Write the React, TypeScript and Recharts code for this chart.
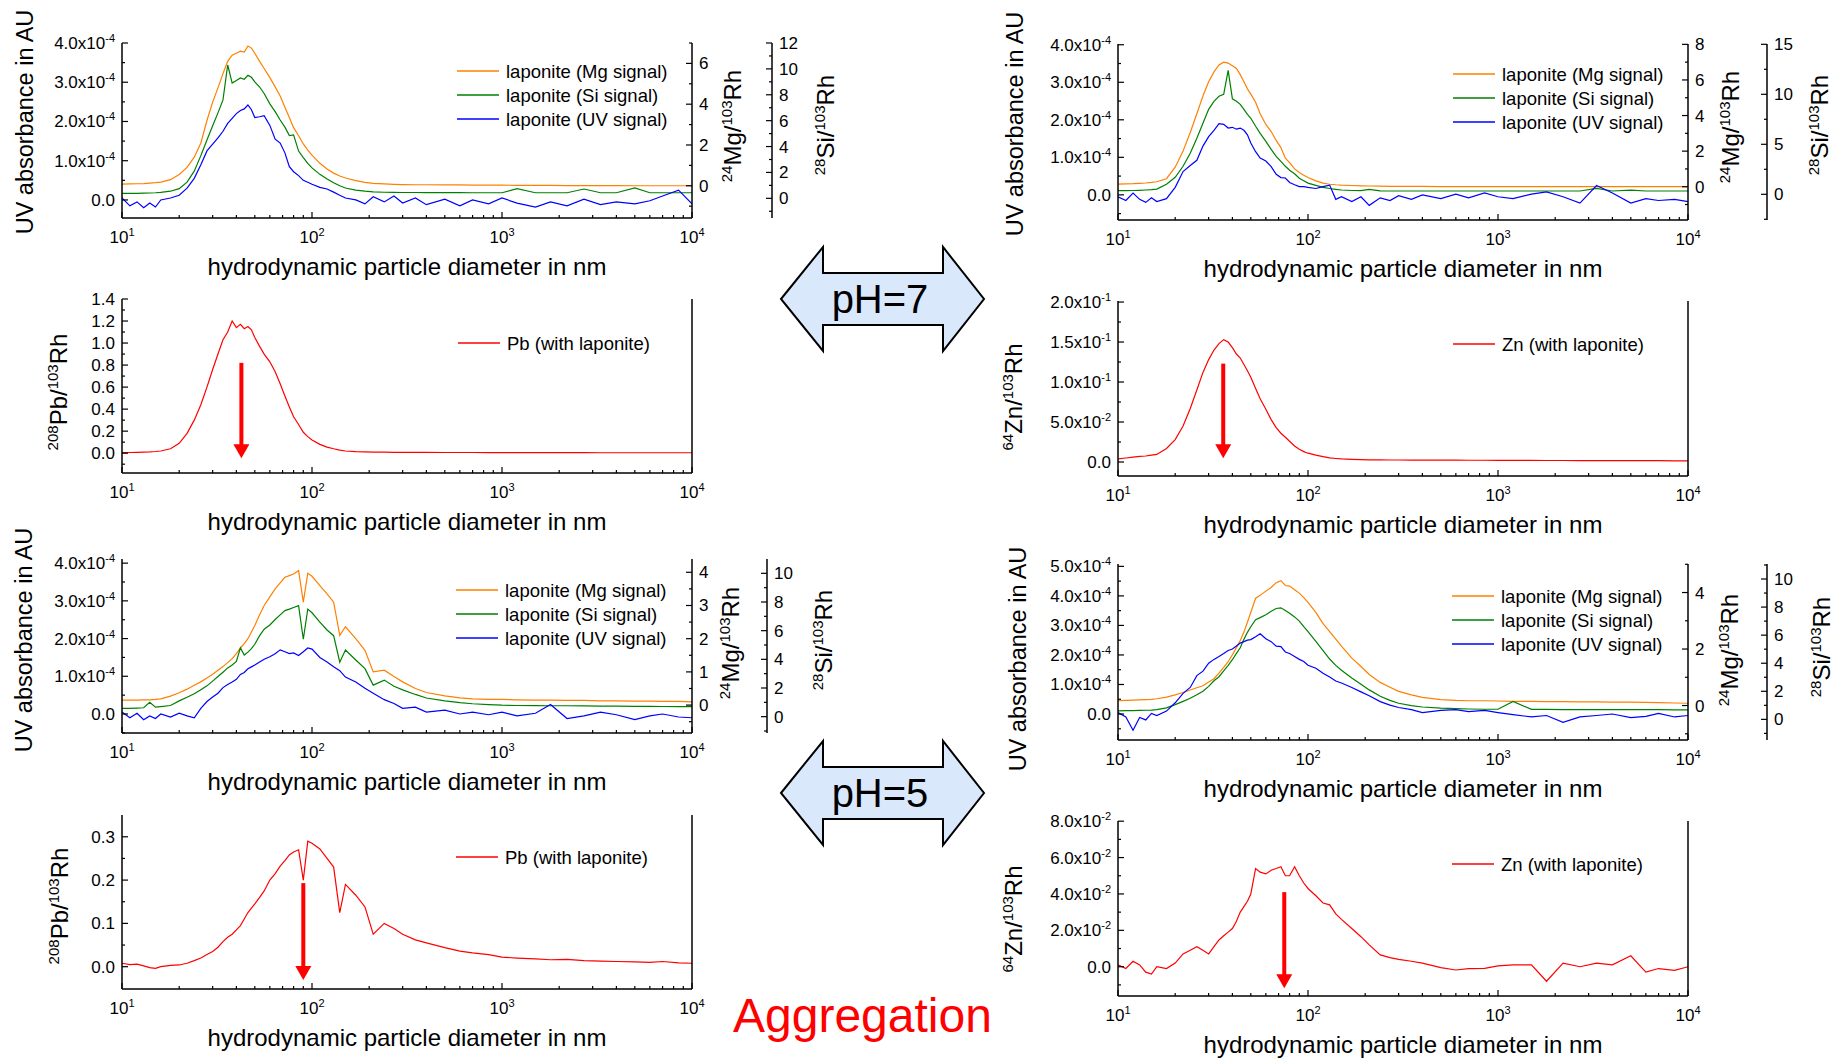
import React from 'react';
import { LineChart, Line, XAxis, YAxis, Legend, ReferenceLine } from 'recharts';

const FONT = 'Arial, "Liberation Sans", Helvetica, sans-serif';
const ORANGE = '#ff8000';
const GREEN = '#008000';
const BLUE = '#0000ff';
const RED = '#ff0000';

// hydrodynamic particle diameter (nm) where the curves were read
const diameters = [
  10, 11, 12, 13, 14, 15, 16,
  18, 20, 22, 24, 26, 28, 30, 32, 34, 36, 38, 40, 42, 44, 46, 48, 50,
  53, 56, 60, 64, 68, 72, 76, 80, 85, 90, 95, 100,
  110, 120, 130, 140, 150, 170, 190, 210, 240, 270, 300,
  350, 400, 500, 600, 700, 850, 1000,
  1200, 1500, 1800, 2200, 2700, 3300, 4000, 5000, 6000, 7000, 8500, 10000,
];

// pH 7, Pb run (UV in 1e-4 AU)
const pb7Mg = [
  .08, .09, .1, .11, .13, .15, .18,
  .3, .55, .9, 1.4, 2.1, 3.2, 4.1, 4.8, 5.5, 6.1, 6.4, 6.5, 6.6, 6.55, 6.85, 6.75, 6.5,
  6.1, 5.75, 5.3, 4.85, 4.4, 3.85, 3.35, 2.85, 2.45, 2.05, 1.75, 1.5,
  1.1, .82, .62, .48, .38, .25, .17, .12, .09, .07, .06,
  .05, .05, .04, .04, .03, .03, .03,
  .02, .02, .02, .01, .01, .01, .01, 0, 0, 0, 0, 0,
];
const pb7Si = [
  .38, .38, .39, .4, .41, .43, .46,
  .55, .75, 1.25, 2.1, 3.3, 4.5, 5.6, 6.6, 7.6, 10.3, 8.9, 9.1, 9.3, 9.2, 9.5, 9.35, 9.0,
  8.6, 8.1, 7.3, 6.7, 6.05, 5.5, 4.85, 4.9, 3.65, 3.15, 2.7, 2.35,
  1.85, 1.5, 1.2, .97, .8, .63, .55, .5, .47, .46, .45,
  .45, .44, .44, .44, .43, .43, .43,
  .75, .43, .43, .43, .72, .43, .43, .8, .43, .43, .43, .43,
];
const pb7Uv = [
  .05, -.15, -.05, -.2, -.08, -.18, 0,
  .05, .12, .3, .55, .9, 1.25, 1.42, 1.58, 1.75, 1.95, 2.08, 2.2, 2.28, 2.32, 2.42, 2.3, 2.1,
  2.12, 2.15, 1.9, 1.55, 1.45, 1.2, .85, .72, .62, .5, .45, .4,
  .32, .28, .2, .12, .05, 0, -.1, .08, -.05, .1, -.08,
  .05, -.12, .02, -.15, 0, -.1, .05,
  -.08, -.18, -.05, -.15, .02, -.12, -.05, -.1, -.02, .1, .25, -.1,
];
const pb7Pb = [
  .005, .006, .008, .01, .012, .015, .02,
  .04, .09, .18, .3, .44, .6, .76, .9, 1.03, 1.1, 1.2, 1.14, 1.17, 1.13, 1.15, 1.12, 1.05,
  .97, .9, .83, .74, .63, .52, .42, .33, .26, .19, .15, .12,
  .08, .055, .04, .028, .02, .014, .012, .01, .009, .008, .008,
  .007, .007, .006, .006, .006, .005, .005,
  .005, .005, .005, .005, .005, .004, .004, .004, .004, .004, .004, .004,
];

// pH 7, Zn run
const zn7Mg = [
  .15, .16, .17, .19, .21, .24, .28,
  .45, 1.1, 2.0, 3.05, 4.1, 5.1, 5.9, 6.45, 6.84, 7.0, 6.95, 6.8, 6.65, 6.3, 5.9, 5.5, 5.2,
  4.75, 4.1, 3.5, 3.1, 2.6, 2.2, 1.6, 1.35, 1.0, .8, .65, .52,
  .33, .2, .14, .11, .09, .07, .05, .04, .03, .02, .02,
  .02, .02, .01, .01, .01, .01, .01,
  .01, .01, .01, 0, 0, 0, 0, 0, 0, 0, 0, 0,
];
const zn7Si = [
  .36, .37, .38, .4, .43, .47, .52,
  1.0, 1.7, 2.8, 4.1, 5.6, 7.1, 8.5, 9.3, 9.8, 10.0, 12.4, 9.55, 9.3, 9.0, 8.5, 8.0, 7.6,
  6.8, 6.1, 5.3, 4.5, 3.8, 3.3, 2.8, 2.4, 2.05, 1.6, 1.35, 1.12,
  .9, .7, .58, .5, .43, .38, .36, .5, .34, .33, .33,
  .33, .33, .33, .33, .33, .33, .33,
  .33, .33, .33, .33, .33, .6, .33, .42, .33, .33, .33, .33,
];
const zn7Uv = [
  -.05, -.15, .05, -.12, -.2, -.08, -.18,
  -.1, .2, .62, .78, .92, 1.3, 1.55, 1.72, 1.9, 1.88, 1.78, 1.8, 1.75, 1.78, 1.72, 1.6, 1.38,
  1.15, .98, .9, .75, .55, .46, .45, .33, .27, .22, .22, .2,
  .17, .22, .26, -.12, -.05, -.18, -.05, -.28, -.08, -.15, -.02,
  -.12, 0, -.1, .02, -.08, .05, -.05,
  -.1, .02, .08, -.05, -.22, .25, .05, -.22, -.1, -.15, -.12, -.18,
];
const zn7Zn = [
  .004, .005, .006, .007, .0075, .0085, .0095,
  .017, .028, .045, .067, .09, .112, .128, .14, .148, .153, .15, .143, .135, .13, .122, .114, .106,
  .092, .079, .066, .053, .043, .036, .031, .026, .02, .016, .013, .011,
  .0085, .0068, .0052, .0044, .0038, .0032, .0029, .0027, .0026, .0025, .0025,
  .0024, .0024, .0023, .0023, .0022, .0022, .0021,
  .002, .002, .0019, .0019, .0018, .0018, .0017, .0017, .0016, .0016, .0015, .0015,
];

// pH 5, Pb run
const pb5Mg = [
  .15, .15, .15, .16, .16, .17, .19,
  .27, .37, .48, .6, .7, .82, .93, 1.05, 1.16, 1.28, 1.4, 1.55, 1.72, 1.85, 2.0, 2.2, 2.4,
  2.72, 3.0, 3.26, 3.5, 3.68, 3.85, 3.9, 3.95, 4.05, 3.1, 3.97, 3.88,
  3.6, 3.35, 3.1, 2.1, 2.36, 2.0, 1.65, 1.0, 1.05, .86, .7,
  .5, .38, .28, .22, .19, .17, .17,
  .16, .15, .15, .14, .14, .13, .13, .12, .12, .11, .11, .1,
];
const pb5Si = [
  .58, .58, .6, .62, 1.0, .66, .7,
  .78, 1.1, 1.35, 1.6, 1.88, 2.15, 2.48, 2.8, 3.1, 3.4, 3.6, 3.85, 4.8, 4.3, 4.5, 4.75, 5.05,
  5.65, 6.1, 6.4, 6.78, 7.1, 7.4, 7.5, 7.62, 7.75, 5.4, 7.5, 7.25,
  6.6, 6.05, 5.65, 3.8, 4.65, 3.95, 3.35, 2.2, 2.55, 2.12, 1.87,
  1.55, 1.3, 1.1, .98, .9, .84, .8,
  .78, .77, .76, .76, .75, .74, .73, .72, .72, .71, .7, .7,
];
const pb5Uv = [
  .05, -.1, .02, -.15, -.05, -.12, 0,
  -.08, .02, -.05, -.1, .15, .33, .45, .55, .7, .78, .85, .92, 1.05, 1.1, 1.2, 1.25, 1.3,
  1.38, 1.45, 1.52, 1.6, 1.7, 1.65, 1.6, 1.62, 1.55, 1.65, 1.75, 1.72,
  1.5, 1.38, 1.25, 1.15, .98, .85, .68, .55, .38, .28, .15,
  .18, .05, .1, 0, .05, -.02, .05,
  -.05, .02, .25, -.12, -.05, .05, -.02, -.15, -.05, 0, -.08, -.1,
];
const pb5Pb = [
  .008, .005, .006, .002, -.002, -.004, 0,
  .003, .004, .008, .014, .02, .028, .035, .045, .058, .068, .075, .085, .095, .11, .125, .135, .145,
  .16, .175, .2, .215, .232, .245, .258, .265, .27, .2, .29, .285,
  .272, .25, .23, .125, .19, .165, .138, .075, .1, .088, .075,
  .062, .055, .044, .036, .032, .028, .022,
  .02, .018, .016, .017, .014, .013, .012, .011, .01, .012, .009, .008,
];

// pH 5, Zn run
const zn5Mg = [
  .17, .18, .19, .2, .21, .22, .24,
  .3, .38, .46, .55, .63, .7, .83, .95, 1.15, 1.35, 1.55, 1.8, 2.05, 2.3, 2.6, 2.95, 3.3,
  3.8, 3.9, 4.05, 4.18, 4.35, 4.42, 4.25, 4.23, 4.1, 3.98, 3.82, 3.65,
  3.3, 2.9, 2.62, 2.35, 2.1, 1.68, 1.38, 1.1, .82, .65, .5,
  .38, .29, .21, .18, .17, .17, .16,
  .15, .15, .14, .14, .13, .13, .12, .12, .11, .1, .09, .08,
];
const zn5Si = [
  .61, .62, .63, .64, .65, .66, .7,
  .82, 1.05, 1.28, 1.5, 1.75, 2.0, 2.35, 2.75, 3.04, 3.45, 3.85, 4.25, 4.7, 5.1, 5.7, 6.2, 6.6,
  7.1, 7.25, 7.45, 7.7, 7.9, 7.95, 7.75, 7.56, 7.3, 7.0, 6.6, 6.25,
  5.55, 4.9, 4.3, 3.85, 3.5, 2.95, 2.5, 2.1, 1.65, 1.35, 1.15,
  .98, .88, .8, .76, .74, .72, .72,
  1.28, .71, .71, .7, .7, .7, .7, .7, .69, .69, .68, .68,
];
const zn5Uv = [
  .05, -.1, -.55, -.12, -.2, .02, -.05,
  .1, .38, .7, .9, 1.3, 1.45, 1.72, 1.85, 1.95, 2.05, 2.15, 2.2, 2.3, 2.4, 2.45, 2.5, 2.52,
  2.62, 2.72, 2.55, 2.45, 2.3, 2.28, 2.1, 2.05, 1.95, 1.85, 1.78, 1.65,
  1.55, 1.38, 1.25, 1.12, 1.05, .9, .75, .62, .42, .3, .22,
  .15, .05, .12, .15, .08, .12, .05,
  -.02, -.1, -.05, -.28, -.1, -.05, 0, -.12, -.08, .02, -.1, -.05,
];
const zn5Zn = [
  .001, -.001, .003, .001, -.003, -.004, 0,
  -.001, .002, .007, .009, .011, .009, .007, .011, .0147, .017, .019, .021, .025, .03, .033, .036, .04,
  .054, .052, .051, .053, .054, .055, .05, .05, .055, .05, .046, .043,
  .039, .035, .034, .029, .026, .021, .0165, .012, .0065, .005, .004,
  .003, .002, -.0005, -.0018, -.001, -.0009, .0005,
  .001, .001, -.008, .002, 0, .002, .001, .006, -.003, -.001, -.002, 0,
];

const xMajor = [10, 100, 1000, 10000];
const xMinor = [20, 30, 40, 50, 60, 70, 80, 90, 200, 300, 400, 500, 600, 700, 800, 900,
  2000, 3000, 4000, 5000, 6000, 7000, 8000, 9000];

// arrows marking the peak diameter: [diameter, top, tip]
const arrowPb7 = [42.5, 0.82, -0.045];
const arrowZn7 = [35.8, 0.123, 0.0046];
const arrowPb5 = [90, 0.193, -0.031];
const arrowZn5 = [75, 0.041, -0.0119];

type Fmt = (v: number) => React.ReactNode;
interface AxisCfg { domain: [number, number]; major: number[]; minor: number[]; fmt: Fmt }
interface SeriesCfg { key: string; name: string; color: string; values: number[]; axis: string }
interface LabelCfg { iso?: string; el: string; bx: number; cy: number }
interface PanelCfg {
  x: number; y: number; w: number; h: number;
  left: AxisCfg; mg?: AxisCfg; si?: AxisCfg; mgW?: number;
  series: SeriesCfg[];
  yLabel: LabelCfg; mgLabel?: LabelCfg; siLabel?: LabelCfg;
  legendX: number; legendY: number;
  arrow?: number[];
}

const sci = (v: number): React.ReactNode => {
  if (Math.abs(v) < 1e-12) return '0.0';
  const e = Math.floor(Math.log10(Math.abs(v)) + 1e-9);
  const m = v / Math.pow(10, e);
  return (
    <>
      {m.toFixed(1)}x10<tspan dy={-7} fontSize={11}>{e}</tspan>
    </>
  );
};
const uvFmt: Fmt = (v) => sci(v * 1e-4);
const fix1: Fmt = (v) => v.toFixed(1);
const int: Fmt = (v) => String(v);

const LEFT_W = 130;
const TOP = 42;
const BOTTOM_H = 72;
const SI_W = 70;

const yTick = (side: 'left' | 'right', axis: AxisCfg) => (props: any) => {
  const { x, y, payload } = props;
  const v = payload.value as number;
  const major = axis.major.some((m) => Math.abs(m - v) < 1e-9);
  const dir = side === 'left' ? 1 : -1;
  return (
    <g>
      <line x1={x} y1={y} x2={x + dir * (major ? 6 : 3)} y2={y} stroke="#000" strokeWidth={1.2} />
      {major && (
        <text x={side === 'left' ? x - 7 : x + 7} y={y + 6} textAnchor={side === 'left' ? 'end' : 'start'}
          fontSize={17} fontFamily={FONT} fill="#000">
          {axis.fmt(v)}
        </text>
      )}
    </g>
  );
};

const xTick = (props: any) => {
  const { x, y, payload } = props;
  const v = payload.value as number;
  const major = xMajor.includes(v);
  return (
    <g>
      <line x1={x} y1={y} x2={x} y2={y - (major ? 6 : 3)} stroke="#000" strokeWidth={1.2} />
      {major && (
        <text x={x} y={y + 25} textAnchor="middle" fontSize={17} fontFamily={FONT} fill="#000">
          10<tspan dy={-7} fontSize={11}>{Math.round(Math.log10(v))}</tspan>
        </text>
      )}
    </g>
  );
};

const rotLabel = (l: LabelCfg, ox: number, oy: number) => {
  const bx = l.bx - ox;
  const cy = l.cy - oy;
  return (
    <text transform={`rotate(-90 ${bx} ${cy})`} x={bx} y={cy} textAnchor="middle" fontFamily={FONT} fill="#000">
      {l.iso ? (
        <>
          <tspan fontSize={15} dy={-9}>{l.iso}</tspan>
          <tspan fontSize={24} dy={9}>{l.el}/</tspan>
          <tspan fontSize={15} dy={-9}>103</tspan>
          <tspan fontSize={24} dy={9}>Rh</tspan>
        </>
      ) : (
        <tspan fontSize={23.5}>{l.el}</tspan>
      )}
    </text>
  );
};

const arrowShape = (props: any) => {
  const { x1, y1, x2, y2 } = props;
  return (
    <g>
      <line x1={x1} y1={y1} x2={x2} y2={y2 - 13} stroke={RED} strokeWidth={4} />
      <polygon points={`${x2 - 8},${y2 - 14} ${x2 + 8},${y2 - 14} ${x2},${y2}`} fill={RED} />
    </g>
  );
};

const axisLine = { stroke: '#000', strokeWidth: 1.5 };

function Panel({ cfg }: { cfg: PanelCfg }) {
  const ox = cfg.x - LEFT_W;
  const oy = cfg.y - TOP;
  const multi = !!cfg.mg;
  const rightW = multi ? (cfg.mgW as number) + SI_W : 1;
  const rightM = multi ? 0 : 30;
  const W = LEFT_W + cfg.w + rightW + rightM;
  const H = TOP + cfg.h + BOTTOM_H;
  const rows = diameters.map((d, i) => {
    const r: Record<string, number> = { d };
    cfg.series.forEach((s) => { r[s.key] = s.values[i]; });
    return r;
  });

  const legend = () => (
    <svg width={240} height={cfg.series.length * 24 + 6} style={{ display: 'block', overflow: 'visible' }}>
      {cfg.series.map((s, i) => (
        <g key={s.key}>
          <line x1={0} x2={42} y1={12 + i * 24} y2={12 + i * 24} stroke={s.color} strokeWidth={1.5} />
          <text x={49} y={18.5 + i * 24} fontSize={18.5} fontFamily={FONT} fill="#000">{s.name}</text>
        </g>
      ))}
    </svg>
  );

  return (
    <div style={{ position: 'absolute', left: ox, top: oy }}>
      <LineChart width={W} height={H} data={rows} margin={{ top: TOP, right: rightM, bottom: 0, left: 0 }}>
        <XAxis dataKey="d" type="number" scale="log" domain={[10, 10000]} allowDataOverflow
          ticks={[...xMajor, ...xMinor]} interval={0} height={BOTTOM_H}
          tickSize={0} tickMargin={0} tickLine={false} axisLine={axisLine} tick={xTick}
          label={() => (
            <text x={LEFT_W + cfg.w / 2} y={TOP + cfg.h + 57} textAnchor="middle" fontSize={24}
              fontFamily={FONT} fill="#000">hydrodynamic particle diameter in nm</text>
          )} />
        <XAxis xAxisId="top" orientation="top" dataKey="d" type="number" scale="log" domain={[10, 10000]}
          allowDataOverflow height={0} tick={false} tickLine={false} axisLine={axisLine} />
        <YAxis yAxisId="left" orientation="left" width={LEFT_W} type="number" domain={cfg.left.domain}
          allowDataOverflow ticks={[...cfg.left.major, ...cfg.left.minor]} interval={0}
          tickSize={0} tickMargin={0} tickLine={false} axisLine={axisLine} tick={yTick('left', cfg.left)}
          label={() => rotLabel(cfg.yLabel, ox, oy)} />
        {multi ? (
          <YAxis yAxisId="a_mg" orientation="right" width={cfg.mgW} type="number" domain={cfg.mg!.domain}
            allowDataOverflow ticks={[...cfg.mg!.major, ...cfg.mg!.minor]} interval={0}
            tickSize={0} tickMargin={0} tickLine={false} axisLine={axisLine} tick={yTick('right', cfg.mg!)}
            label={() => rotLabel(cfg.mgLabel!, ox, oy)} />
        ) : (
          <YAxis yAxisId="a_border" orientation="right" width={1} type="number" domain={[0, 1]}
            tick={false} tickLine={false} axisLine={axisLine} />
        )}
        {multi && (
          <YAxis yAxisId="b_si" orientation="right" width={SI_W} type="number" domain={cfg.si!.domain}
            allowDataOverflow ticks={[...cfg.si!.major, ...cfg.si!.minor]} interval={0}
            tickSize={0} tickMargin={0} tickLine={false} axisLine={axisLine} tick={yTick('right', cfg.si!)}
            label={() => rotLabel(cfg.siLabel!, ox, oy)} />
        )}
        {cfg.series.map((s) => (
          <Line key={s.key} yAxisId={s.axis} dataKey={s.key} name={s.name} type="linear" stroke={s.color}
            strokeWidth={1.2} dot={false} activeDot={false} isAnimationActive={false} />
        ))}
        {cfg.arrow && (
          <ReferenceLine yAxisId="left" ifOverflow="visible"
            segment={[{ x: cfg.arrow[0], y: cfg.arrow[1] }, { x: cfg.arrow[0], y: cfg.arrow[2] }]}
            shape={arrowShape} />
        )}
        <Legend layout="vertical" align="center" verticalAlign="middle" content={legend}
          wrapperStyle={{ left: cfg.legendX - ox, top: cfg.legendY - 12 - oy, width: 240 }} />
      </LineChart>
    </div>
  );
}

const lapSeries = (mg: number[], si: number[], uv: number[]): SeriesCfg[] => [
  { key: 'mg', name: 'laponite (Mg signal)', color: ORANGE, values: mg, axis: 'a_mg' },
  { key: 'si', name: 'laponite (Si signal)', color: GREEN, values: si, axis: 'b_si' },
  { key: 'uv', name: 'laponite (UV signal)', color: BLUE, values: uv, axis: 'left' },
];

const uvLabel = (bx: number, cy: number): LabelCfg => ({ el: 'UV absorbance in AU', bx, cy });

const panels: PanelCfg[] = [
  {
    x: 122, y: 43, w: 570, h: 175, mgW: 80,
    left: { domain: [-0.46, 4.0], major: [0, 1, 2, 3, 4], minor: [0.5, 1.5, 2.5, 3.5], fmt: uvFmt },
    mg: { domain: [-1.58, 7.0], major: [0, 2, 4, 6], minor: [-1, 1, 3, 5, 7], fmt: int },
    si: { domain: [-1.52, 12.0], major: [0, 2, 4, 6, 8, 10, 12], minor: [-1, 1, 3, 5, 7, 9, 11], fmt: int },
    series: lapSeries(pb7Mg, pb7Si, pb7Uv),
    yLabel: uvLabel(32.5, 122),
    mgLabel: { iso: '24', el: 'Mg', bx: 740.5, cy: 126 },
    siLabel: { iso: '28', el: 'Si', bx: 833.5, cy: 125 },
    legendX: 457, legendY: 71,
  },
  {
    x: 122, y: 299, w: 570, h: 174,
    left: { domain: [-0.18, 1.4], major: [0, 0.2, 0.4, 0.6, 0.8, 1.0, 1.2, 1.4],
      minor: [-0.1, 0.1, 0.3, 0.5, 0.7, 0.9, 1.1, 1.3], fmt: fix1 },
    series: [{ key: 'pb', name: 'Pb (with laponite)', color: RED, values: pb7Pb, axis: 'left' }],
    yLabel: { iso: '208', el: 'Pb', bx: 66.5, cy: 392 },
    legendX: 458, legendY: 343,
    arrow: arrowPb7,
  },
  {
    x: 1118, y: 44, w: 570, h: 176, mgW: 79,
    left: { domain: [-0.67, 4.02], major: [0, 1, 2, 3, 4], minor: [-0.5, 0.5, 1.5, 2.5, 3.5], fmt: uvFmt },
    mg: { domain: [-1.87, 8.02], major: [0, 2, 4, 6, 8], minor: [-1, 1, 3, 5, 7], fmt: int },
    si: { domain: [-2.57, 15.03], major: [0, 5, 10, 15], minor: [-2.5, 2.5, 7.5, 12.5], fmt: int },
    series: lapSeries(zn7Mg, zn7Si, zn7Uv),
    yLabel: uvLabel(1023, 124),
    mgLabel: { iso: '24', el: 'Mg', bx: 1738.5, cy: 127 },
    siLabel: { iso: '28', el: 'Si', bx: 1828, cy: 125 },
    legendX: 1453, legendY: 74,
  },
  {
    x: 1118, y: 301, w: 570, h: 175,
    left: { domain: [-0.0175, 0.2013], major: [0, 0.05, 0.1, 0.15, 0.2],
      minor: [0.025, 0.075, 0.125, 0.175], fmt: sci },
    series: [{ key: 'zn', name: 'Zn (with laponite)', color: RED, values: zn7Zn, axis: 'left' }],
    yLabel: { iso: '64', el: 'Zn', bx: 1022, cy: 397 },
    legendX: 1453, legendY: 344,
    arrow: arrowZn7,
  },
  {
    x: 122, y: 559, w: 570, h: 174, mgW: 75,
    left: { domain: [-0.504, 4.11], major: [0, 1, 2, 3, 4], minor: [-0.5, 0.5, 1.5, 2.5, 3.5], fmt: uvFmt },
    mg: { domain: [-0.84, 4.4], major: [0, 1, 2, 3, 4], minor: [-0.5, 0.5, 1.5, 2.5, 3.5], fmt: int },
    si: { domain: [-1.14, 11.0], major: [0, 2, 4, 6, 8, 10], minor: [-1, 1, 3, 5, 7, 9], fmt: int },
    series: lapSeries(pb5Mg, pb5Si, pb5Uv),
    yLabel: uvLabel(32, 640),
    mgLabel: { iso: '24', el: 'Mg', bx: 739, cy: 643 },
    siLabel: { iso: '28', el: 'Si', bx: 832, cy: 640 },
    legendX: 456, legendY: 590,
  },
  {
    x: 122, y: 815, w: 570, h: 174,
    left: { domain: [-0.0515, 0.3503], major: [0, 0.1, 0.2, 0.3], minor: [0.05, 0.15, 0.25], fmt: fix1 },
    series: [{ key: 'pb', name: 'Pb (with laponite)', color: RED, values: pb5Pb, axis: 'left' }],
    yLabel: { iso: '208', el: 'Pb', bx: 68, cy: 906 },
    legendX: 456, legendY: 857,
    arrow: arrowPb5,
  },
  {
    x: 1118, y: 564, w: 570, h: 176, mgW: 79,
    left: { domain: [-0.88, 5.08], major: [0, 1, 2, 3, 4, 5], minor: [-0.5, 0.5, 1.5, 2.5, 3.5, 4.5], fmt: uvFmt },
    mg: { domain: [-1.22, 5.01], major: [0, 2, 4], minor: [-1, 1, 3, 5], fmt: int },
    si: { domain: [-1.47, 11.07], major: [0, 2, 4, 6, 8, 10], minor: [-1, 1, 3, 5, 7, 9, 11], fmt: int },
    series: lapSeries(zn5Mg, zn5Si, zn5Uv),
    yLabel: uvLabel(1025.5, 659),
    mgLabel: { iso: '24', el: 'Mg', bx: 1738, cy: 650 },
    siLabel: { iso: '28', el: 'Si', bx: 1830, cy: 647 },
    legendX: 1452, legendY: 596,
  },
  {
    x: 1118, y: 821, w: 570, h: 175,
    left: { domain: [-0.0161, 0.0801], major: [0, 0.02, 0.04, 0.06, 0.08],
      minor: [-0.01, 0.01, 0.03, 0.05, 0.07], fmt: sci },
    series: [{ key: 'zn', name: 'Zn (with laponite)', color: RED, values: zn5Zn, axis: 'left' }],
    yLabel: { iso: '64', el: 'Zn', bx: 1022, cy: 919 },
    legendX: 1452, legendY: 864,
    arrow: arrowZn5,
  },
];

const phBadge = (label: string, cy: number) => {
  const pts = [[781, 0], [823, -52], [823, -26], [943, -26], [943, -52], [984, 0], [943, 52], [943, 26], [823, 26], [823, 52]]
    .map(([px, py]) => `${px},${cy + py}`).join(' ');
  return (
    <g>
      <polygon points={pts} fill="#dae8fc" stroke="#000" strokeWidth={2} />
      <text x={880} y={cy + 14} textAnchor="middle" fontSize={40} fontFamily={FONT} fill="#000">{label}</text>
    </g>
  );
};

export default function App() {
  return (
    <div style={{ position: 'absolute', left: 0, top: 0, width: 1845, height: 1061, overflow: 'hidden', background: '#fff' }}>
      {panels.map((p, i) => <Panel key={i} cfg={p} />)}
      <svg width={1845} height={1061} style={{ position: 'absolute', left: 0, top: 0, pointerEvents: 'none' }}>
        {phBadge('pH=7', 299)}
        {phBadge('pH=5', 793)}
        <text x={733} y={1032} fontSize={48} fontFamily={FONT} fill={RED}>Aggregation</text>
      </svg>
    </div>
  );
}
